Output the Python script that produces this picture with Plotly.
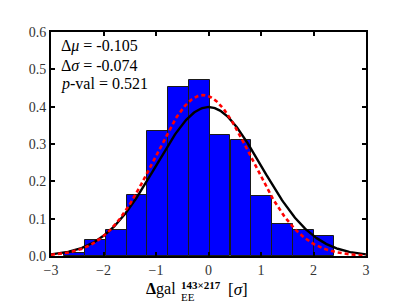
import numpy as np
import plotly.graph_objects as go

# Histogram data (normalised density)
bin_left = [-2.745, -2.35, -1.954, -1.559, -1.163, -0.768, -0.372, 0.023, 0.419, 0.814, 1.21, 1.605, 2.001]
bin_width = 0.3955
density = [0.008, 0.043, 0.069, 0.163, 0.334, 0.4535, 0.4706, 0.325, 0.310, 0.162, 0.086, 0.069, 0.053]

# Gaussian model parameters
ref_mu, ref_sigma = 0.0, 1.0
d_mu, d_sigma, p_val = -0.105, -0.074, 0.521

x_ticks = [-3, -2, -1, 0, 1, 2, 3]
y_ticks = [0.0, 0.1, 0.2, 0.3, 0.4, 0.5, 0.6]

FONT = "Liberation Serif"

centers = [l + bin_width / 2 for l in bin_left]
xs = np.linspace(-3, 3, 301)


def gauss(x, mu, s):
    return np.exp(-0.5 * ((x - mu) / s) ** 2) / (s * np.sqrt(2 * np.pi))


fig = go.Figure()
fig.add_trace(go.Bar(x=centers, y=density, width=bin_width,
                     marker=dict(color="#0000ff", line=dict(color="#1a1a1a", width=1)),
                     showlegend=False))
fig.add_trace(go.Scatter(x=xs, y=gauss(xs, ref_mu, ref_sigma), mode="lines",
                         line=dict(color="black", width=2.4), showlegend=False))
fig.add_trace(go.Scatter(x=xs, y=gauss(xs, ref_mu + d_mu, ref_sigma + d_sigma), mode="lines",
                         line=dict(color="#ff0000", width=2.6, dash="4px,3px"), showlegend=False))

axis_common = dict(showline=True, linecolor="black", linewidth=2, mirror="ticks",
                   ticks="inside", ticklen=4, tickwidth=1.5, tickcolor="black",
                   showgrid=False, zeroline=False, automargin=False,
                   tickfont=dict(family=FONT, size=14, color="#333"))

fig.update_xaxes(range=[-3, 3], tickvals=x_ticks, ticklabelstandoff=0, **axis_common)
fig.update_yaxes(range=[0, 0.6], tickvals=y_ticks, tickformat=".1f", **axis_common)

ann = []
lines = [f"Δ<i>μ</i> = {d_mu:.3f}", f"Δ<i>σ</i> = {d_sigma:.3f}", f"<i>p</i>-val = {p_val:.3f}"]
ys = [46, 65.5, 84]
for t, py in zip(lines, ys):
    ann.append(dict(text=t, xref="paper", yref="paper", x=(59 - 51) / 315, y=(256 - py) / 224,
                    xanchor="left", yanchor="middle", showarrow=False,
                    font=dict(family=FONT, size=16, color="black")))

# x-axis label pieces
ann.append(dict(text="<b>Δ</b>gal", xref="paper", yref="paper", x=(145 - 51) / 315, y=(256 - 289) / 224,
                xanchor="left", yanchor="middle", showarrow=False, borderpad=0,
                font=dict(family=FONT, size=16, color="black")))
ann.append(dict(text="<b>143×217</b>", xref="paper", yref="paper", x=(180 - 51) / 315, y=(256 - 285) / 224,
                xanchor="left", yanchor="middle", showarrow=False, borderpad=0,
                font=dict(family=FONT, size=11, color="black")))
ann.append(dict(text="EE", xref="paper", yref="paper", x=(180 - 51) / 315, y=(256 - 297) / 224,
                xanchor="left", yanchor="middle", showarrow=False, borderpad=0,
                font=dict(family=FONT, size=11, color="black")))
ann.append(dict(text="[<i>σ</i>]", xref="paper", yref="paper", x=(227 - 51) / 315, y=(256 - 289) / 224,
                xanchor="left", yanchor="middle", showarrow=False, borderpad=0,
                font=dict(family=FONT, size=17, color="black")))

# page body has an 8px default margin; compensate so the plot area lands at x 51..366, y 32..256
fig.update_layout(width=407, height=307, margin=dict(l=43, r=49, t=24, b=59),
                  plot_bgcolor="white", paper_bgcolor="white", bargap=0,
                  annotations=ann)

fig.write_html("out.html")
